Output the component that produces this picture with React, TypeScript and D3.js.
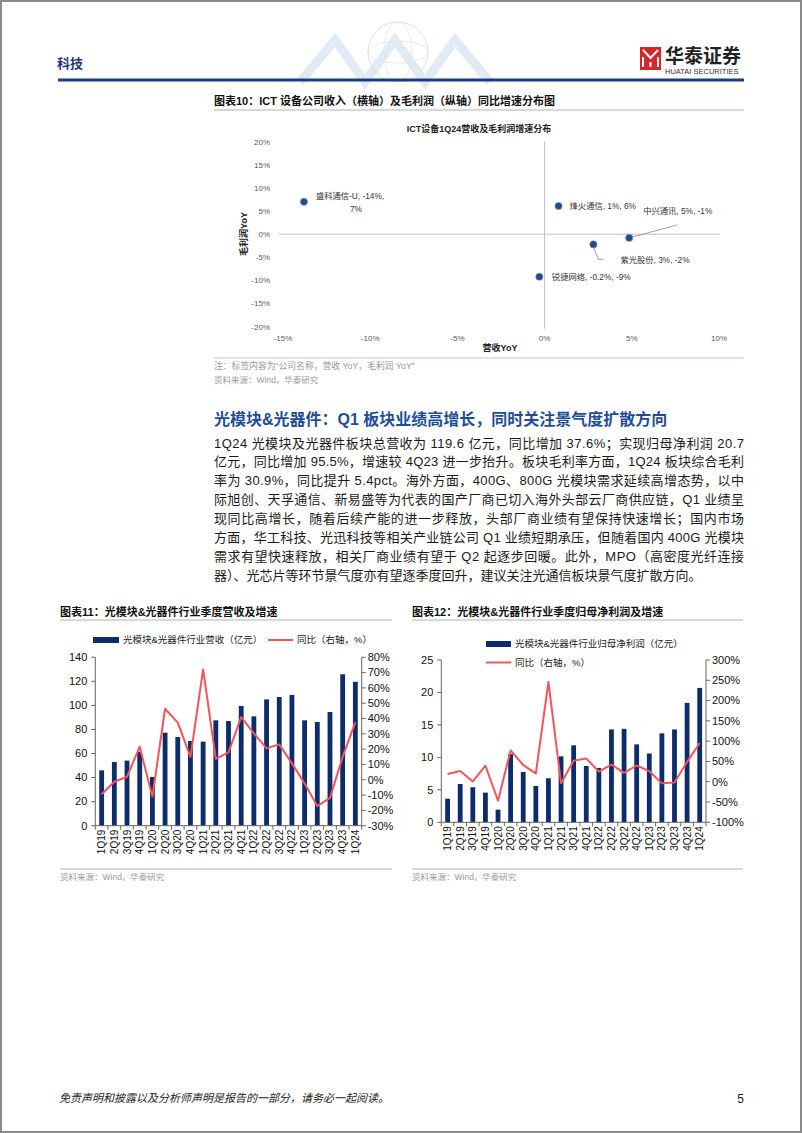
import React from 'react';
import * as d3 from 'd3';

// ---------- data ----------
const quarters = ['1Q19','2Q19','3Q19','4Q19','1Q20','2Q20','3Q20','4Q20','1Q21','2Q21','3Q21','4Q21','1Q22','2Q22','3Q22','4Q22','1Q23','2Q23','3Q23','4Q23','1Q24'];
const revenue = [46.0,53.0,54.1,61.5,40.5,77.3,73.7,70.4,69.9,87.6,87.0,99.5,90.9,105.0,107.0,108.7,87.6,86.2,94.5,125.9,119.6];
const revenueYoY = [-9.4,-1.3,2.0,21.6,-11.1,46.4,37.3,15.0,72.1,13.7,17.9,41.0,30.3,20.5,23.1,10.7,-2.4,-17.2,-11.8,15.0,37.6];
const netProfit = [3.64,5.9,5.4,4.57,1.95,10.5,7.75,5.6,6.78,10.16,11.86,8.68,8.37,14.3,14.4,12.0,10.6,13.7,14.3,18.4,20.7];
const netProfitYoY = [18.9,26.3,0.8,39.4,-46.6,77.2,41.1,20.5,246,-4,52,57.5,25,42,22,40,26,-4,-2,49,95.5];

const revTicks = [0,20,40,60,80,100,120,140];
const revYoYTicks = [-30,-20,-10,0,10,20,30,40,50,60,70,80];
const profitTicks = [0,5,10,15,20,25];
const profitYoYTicks = [-100,-50,0,50,100,150,200,250,300];

const companies = ['盛科通信-U','烽火通信','中兴通讯','紫光股份','锐捷网络'];
const companyRevYoY = [-13.8,0.8,4.85,2.8,-0.3];
const companyGpYoY = [7.0,6.1,-0.8,-2.2,-9.2];
const companyLabels = ['盛科通信-U, -14%,','烽火通信, 1%, 6%','中兴通讯, 5%, -1%','紫光股份, 3%, -2%','锐捷网络, -0.2%, -9%'];
const scatterXTicks = [-15,-10,-5,0,5,10];
const scatterYTicks = [-20,-15,-10,-5,0,5,10,15,20];

const bodyLines = [
  '1Q24 光模块及光器件板块总营收为 119.6 亿元，同比增加 37.6%；实现归母净利润 20.7',
  '亿元，同比增加 95.5%，增速较 4Q23 进一步抬升。板块毛利率方面，1Q24 板块综合毛利',
  '率为 30.9%，同比提升 5.4pct。海外方面，400G、800G 光模块需求延续高增态势，以中',
  '际旭创、天孚通信、新易盛等为代表的国产厂商已切入海外头部云厂商供应链，Q1 业绩呈',
  '现同比高增长，随着后续产能的进一步释放，头部厂商业绩有望保持快速增长；国内市场',
  '方面，华工科技、光迅科技等相关产业链公司 Q1 业绩短期承压，但随着国内 400G 光模块',
  '需求有望快速释放，相关厂商业绩有望于 Q2 起逐步回暖。此外，MPO（高密度光纤连接',
  '器）、光芯片等环节景气度亦有望逐季度回升，建议关注光通信板块景气度扩散方向。',
];

// ---------- style ----------
const FONT = '"Liberation Sans", Arial, "Noto Sans CJK SC", sans-serif';
const NAVY = '#0c2c6c';
const RED = '#f4545a';
const SEP = '#a9b4c4';

// label layout (offsets from points)
const labelLayout = [
  { dx: 12, dy: -6 },
  { dx: 11, dy: 0 },
  { dx: 14, dy: -27 },
  { dx: 27, dy: 16 },
  { dx: 12.5, dy: 0 },
];

function ComboChart(props: {
  x0: number; x1: number; yTop: number; yBot: number;
  bars: number[]; line: number[]; leftTicks: number[]; rightTicks: number[];
  leftDomain: [number, number]; rightDomain: [number, number];
}) {
  const { x0, x1, yTop, yBot, bars, line, leftTicks, rightTicks, leftDomain, rightDomain } = props;
  const xb = d3.scaleBand<string>().domain(quarters).range([x0, x1]).paddingInner(0.62).paddingOuter(0.31);
  const yl = d3.scaleLinear().domain(leftDomain).range([yBot, yTop]);
  const yr = d3.scaleLinear().domain(rightDomain).range([yBot, yTop]);
  const step = xb.step();
  const cx = (q: string) => (xb(q) as number) + xb.bandwidth() / 2;
  const path = d3.line<number>().x((_, i) => cx(quarters[i])).y(d => yr(d))(line) as string;
  const axisColor = '#666';
  return (
    <g fontFamily={FONT}>
      {bars.map((v, i) => (
        <rect key={i} x={xb(quarters[i])} y={yl(v)} width={xb.bandwidth()} height={yl(0) - yl(v)} fill={NAVY} />
      ))}
      <path d={path} fill="none" stroke={RED} strokeWidth={2} strokeLinejoin="round" />
      <line x1={x0} x2={x0} y1={yTop} y2={yBot} stroke={axisColor} />
      {leftTicks.map(t => (
        <g key={'l' + t}>
          <line x1={x0 - 4} x2={x0} y1={yl(t)} y2={yl(t)} stroke={axisColor} />
          <text x={x0 - 8} y={yl(t)} dy="0.35em" textAnchor="end" fontSize={11} fill="#111">{t}</text>
        </g>
      ))}
      <line x1={x1} x2={x1} y1={yTop} y2={yBot} stroke={axisColor} />
      {rightTicks.map(t => (
        <g key={'r' + t}>
          <line x1={x1} x2={x1 + 4} y1={yr(t)} y2={yr(t)} stroke={axisColor} />
          <text x={x1 + 6} y={yr(t)} dy="0.35em" textAnchor="start" fontSize={11} fill="#111">{t + '%'}</text>
        </g>
      ))}
      <line x1={x0} x2={x1} y1={yBot} y2={yBot} stroke={axisColor} />
      {d3.range(quarters.length + 1).map(i => (
        <line key={'b' + i} x1={x0 + i * step} x2={x0 + i * step} y1={yBot} y2={yBot + 4} stroke={axisColor} />
      ))}
      {quarters.map(q => (
        <text key={q} transform={`translate(${cx(q) + 3.5},${yBot + 4}) rotate(-90)`} textAnchor="end" fontSize={10} fill="#111">{q}</text>
      ))}
    </g>
  );
}

function Scatter() {
  const xs = d3.scaleLinear().domain([-15, 10]).range([283, 719]);
  const ys = d3.scaleLinear().domain([-20, 20]).range([326.7, 141.7]);
  const gray = '#595959';
  return (
    <g fontFamily={FONT}>
      <text x={479} y={129} dy="0.35em" textAnchor="middle" fontSize={9} fontWeight="bold" fill="#222">ICT设备1Q24营收及毛利润增速分布</text>
      <line x1={xs(-15) - 4} x2={xs(10) + 1} y1={ys(0)} y2={ys(0)} stroke="#bfbfbf" />
      <line x1={xs(0)} x2={xs(0)} y1={ys(20)} y2={ys(-20) + 2} stroke="#bfbfbf" />
      {scatterYTicks.map(t => (
        <text key={'y' + t} x={270} y={ys(t)} dy="0.35em" textAnchor="end" fontSize={8} fill={gray}>{t + '%'}</text>
      ))}
      {scatterXTicks.map(t => (
        <text key={'x' + t} x={xs(t)} y={338} dy="0.35em" textAnchor="middle" fontSize={8} fill={gray}>{t + '%'}</text>
      ))}
      <text transform="translate(244,234) rotate(-90)" textAnchor="middle" dy="0.35em" fontSize={9} fontWeight="bold" fill="#222">毛利润YoY</text>
      <text x={500} y={348} dy="0.35em" textAnchor="middle" fontSize={9} fontWeight="bold" fill="#222">营收YoY</text>
      <polyline points={`${xs(companyRevYoY[2])},${ys(companyGpYoY[2])} ${xs(companyRevYoY[2]) + 48},${ys(companyGpYoY[2]) - 13}`} fill="none" stroke="#8c8c8c" strokeWidth={0.8} />
      <polyline points={`${xs(companyRevYoY[3])},${ys(companyGpYoY[3]) + 3} ${xs(companyRevYoY[3]) + 5},${ys(companyGpYoY[3]) + 15} ${xs(companyRevYoY[3]) + 10},${ys(companyGpYoY[3]) + 15}`} fill="none" stroke="#8c8c8c" strokeWidth={0.8} />
      {companies.map((c, i) => {
        const px = xs(companyRevYoY[i]);
        const py = ys(companyGpYoY[i]);
        const L = labelLayout[i];
        return (
          <g key={c}>
            <circle cx={px} cy={py} r={3.6} fill="#1f4e85" stroke="#6f8fb8" strokeWidth={0.6} />
            <text x={px + L.dx} y={py + L.dy} dy="0.35em" fontSize={8.3} fill="#333">{companyLabels[i]}</text>
            {i === 0 && <text x={px + 52} y={py + 7.5} dy="0.35em" textAnchor="middle" fontSize={8.3} fill="#333">{companyGpYoY[0].toFixed(0) + '%'}</text>}
          </g>
        );
      })}
    </g>
  );
}

function Header() {
  return (
    <g fontFamily={FONT}>
      <g opacity={0.55}>
        <polyline points="300,82 335,40 365,82 395,40 425,82 455,40 490,82" fill="none" stroke="#c9dbee" strokeWidth={9} strokeLinejoin="miter" />
        <circle cx={398} cy={52} r={30} fill="none" stroke="#c8c8c8" strokeWidth={1} />
        <ellipse cx={398} cy={52} rx={14} ry={30} fill="none" stroke="#d0d0d0" strokeWidth={0.8} />
        <ellipse cx={398} cy={52} rx={30} ry={11} fill="none" stroke="#d0d0d0" strokeWidth={0.8} />
      </g>
      <text x={57} y={68} fontSize={13} fontWeight="bold" fill="#1f3a78">科技</text>
      <rect x={640} y={47} width={21} height={23} fill="#d6262b" />
      <path d="M643,50 L650.5,58 L658,50 M643,67 L643,57 M658,67 L658,57 M650.5,67 L650.5,62" stroke="#fff" strokeWidth={2} fill="none" />
      <text x={665} y={63} fontSize={19} fontWeight="bold" fill="#222">华泰证券</text>
      <text x={665} y={73.5} fontSize={7.5} fill="#333">HUATAI SECURITIES</text>
      <line x1={58} x2={744} y1={80} y2={80} stroke="#1b3f7e" strokeWidth={3} />
    </g>
  );
}

export default function App() {
  return (
    <svg width={802} height={1133} style={{ position: 'absolute', left: 0, top: 0, background: '#fff' }} xmlns="http://www.w3.org/2000/svg">
      <rect x={0} y={0} width={802} height={1133} fill="#fff" />
      <Header />

      <g fontFamily={FONT}>
        <text x={214} y={105} fontSize={11} fontWeight="bold" fill="#111">图表10：ICT 设备公司收入（横轴）及毛利润（纵轴）同比增速分布图</text>
        <line x1={214} x2={744} y1={110} y2={110} stroke={SEP} />
        <line x1={214} x2={744} y1={358} y2={358} stroke="#d5dde8" strokeWidth={1.5} />
        <text x={214} y={369} fontSize={8.8} fill="#999">注：标签内容为“公司名称，营收 YoY，毛利润 YoY”</text>
        <text x={214} y={383} fontSize={8.5} fill="#999">资料来源：Wind，华泰研究</text>
      </g>
      <Scatter />

      <g fontFamily={FONT}>
        <text x={214} y={425} fontSize={16} fontWeight="bold" fill="#1f4e99">光模块&amp;光器件：Q1 板块业绩高增长，同时关注景气度扩散方向</text>
        {bodyLines.map((l, i) => (
          <text key={i} x={214} y={447.5 + i * 18.9} fontSize={13} fill="#1a1a1a"
            {...(i < bodyLines.length - 1 ? { textLength: 530, lengthAdjust: 'spacing' } : {})}>{l}</text>
        ))}
      </g>

      <g fontFamily={FONT}>
        <text x={60} y={616} fontSize={11} fontWeight="bold" fill="#111">图表11：光模块&amp;光器件行业季度营收及增速</text>
        <line x1={60} x2={392} y1={620} y2={620} stroke={SEP} />
        <rect x={93} y={637} width={26} height={6} fill={NAVY} />
        <text x={123} y={640} dy="0.35em" fontSize={9.5} fill="#222">光模块&amp;光器件行业营收（亿元）</text>
        <line x1={268} x2={293} y1={640} y2={640} stroke={RED} strokeWidth={2} />
        <text x={297} y={640} dy="0.35em" fontSize={9.5} fill="#222">同比（右轴，%）</text>
        <line x1={60} x2={392} y1={869} y2={869} stroke={SEP} />
        <text x={60} y={880} fontSize={8.5} fill="#999">资料来源：Wind，华泰研究</text>
      </g>
      <ComboChart x0={95.3} x1={361.7} yTop={657.3} yBot={825.7} bars={revenue} line={revenueYoY}
        leftTicks={revTicks} rightTicks={revYoYTicks} leftDomain={[0, 140]} rightDomain={[-30, 80]} />

      <g fontFamily={FONT}>
        <text x={412} y={616} fontSize={11} fontWeight="bold" fill="#111">图表12：光模块&amp;光器件行业季度归母净利润及增速</text>
        <line x1={412} x2={743} y1={620} y2={620} stroke={SEP} />
        <rect x={486} y={641} width={25} height={6} fill={NAVY} />
        <text x={515} y={644} dy="0.35em" fontSize={9.5} fill="#222">光模块&amp;光器件行业归母净利润（亿元）</text>
        <line x1={486} x2={511} y1={662.5} y2={662.5} stroke={RED} strokeWidth={2} />
        <text x={515} y={662.5} dy="0.35em" fontSize={9.5} fill="#222">同比（右轴，%）</text>
        <line x1={412} x2={743} y1={869} y2={869} stroke={SEP} />
        <text x={412} y={880} fontSize={8.5} fill="#999">资料来源：Wind，华泰研究</text>
      </g>
      <ComboChart x0={441.3} x1={706} yTop={660} yBot={822.3} bars={netProfit} line={netProfitYoY}
        leftTicks={profitTicks} rightTicks={profitYoYTicks} leftDomain={[0, 25]} rightDomain={[-100, 300]} />

      <g fontFamily={FONT}>
        <text x={59} y={1102} fontSize={11} fontStyle="italic" fill="#222">免责声明和披露以及分析师声明是报告的一部分，请务必一起阅读。</text>
        <text x={744} y={1103} fontSize={12} textAnchor="end" fill="#222">5</text>
      </g>
      <rect x={1} y={1} width={800} height={1131} fill="none" stroke="#8a8a8a" strokeWidth={2} />
    </svg>
  );
}
